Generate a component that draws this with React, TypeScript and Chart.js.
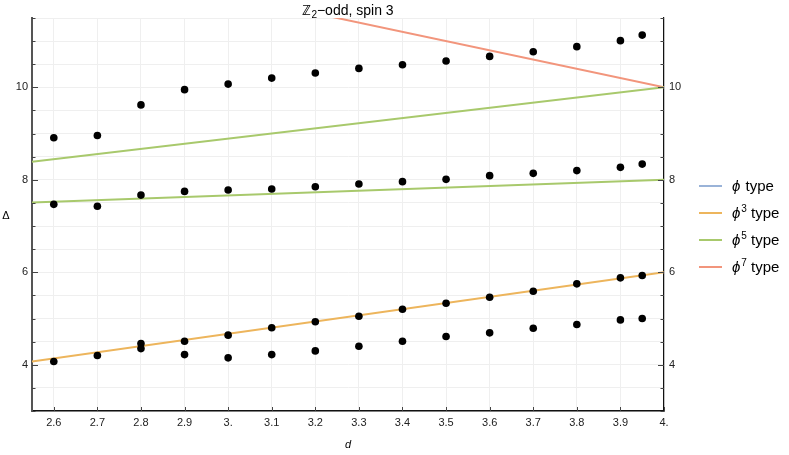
import { useEffect, useRef } from "react";
import { Chart, registerables } from "chart.js";

Chart.register(...registerables);

// ---- data ----
const dPoints = [2.6, 2.7, 2.8, 2.9, 3.0, 3.1, 3.2, 3.3, 3.4, 3.5, 3.6, 3.7, 3.8, 3.9, 3.95];
const upperLevel = [8.91, 8.96, 9.62, 9.95, 10.07, 10.2, 10.31, 10.41, 10.49, 10.57, 10.67, 10.77, 10.88, 11.01, 11.13];
const middleLevel = [7.47, 7.43, 7.67, 7.75, 7.78, 7.8, 7.85, 7.91, 7.96, 8.01, 8.09, 8.14, 8.2, 8.27, 8.34];
const lowerLevelA = [4.07, 4.2, 4.46, 4.51, 4.64, 4.8, 4.93, 5.05, 5.2, 5.33, 5.46, 5.59, 5.75, 5.88, 5.93];
const dLowerB = [2.8, 2.9, 3.0, 3.1, 3.2, 3.3, 3.4, 3.5, 3.6, 3.7, 3.8, 3.9, 3.95];
const lowerLevelB = [4.35, 4.22, 4.15, 4.22, 4.3, 4.4, 4.51, 4.61, 4.69, 4.79, 4.87, 4.97, 5.0];

const lineD = [2.55, 4.0];
const phi3Line = [4.07, 6.0];
const phi5LineLow = [7.51, 8.0];
const phi5LineHigh = [8.39, 10.0];
const phi7D = [3.0, 4.0];
const phi7Line = [12.0, 10.0];

const xTicks = [2.6, 2.7, 2.8, 2.9, 3.0, 3.1, 3.2, 3.3, 3.4, 3.5, 3.6, 3.7, 3.8, 3.9, 4.0];
const xTickLabels = ["2.6", "2.7", "2.8", "2.9", "3.", "3.1", "3.2", "3.3", "3.4", "3.5", "3.6", "3.7", "3.8", "3.9", "4."];
const yLabelled = [4, 6, 8, 10];

const legendPowers = ["", "3", "5", "7"];
const legendColors = ["#9ab3d8", "#edb55c", "#a8c96c", "#f2957c"];

const titleMain = "ℤ";
const titleSub = "2";
const titleRest = "−odd, spin 3";
const xTitle = "d";
const yTitle = "Δ";

const FONT = '"Liberation Sans", Arial, sans-serif';

const zip = (xs: number[], ys: number[]) => xs.map((x, i) => ({ x, y: ys[i] }));

const decorPlugin = {
  id: "decor",
  afterDraw(chart: any) {
    const ctx = chart.ctx as CanvasRenderingContext2D;
    const area = chart.chartArea;
    const xs = chart.scales.x;
    const ys = chart.scales.y;
    ctx.save();

    // inward frame ticks
    ctx.lineWidth = 1;
    ctx.strokeStyle = "#444";
    ctx.beginPath();
    xTicks.forEach((v) => {
      const px = Math.round(xs.getPixelForValue(v)) + 0.5;
      ctx.moveTo(px, area.bottom);
      ctx.lineTo(px, area.bottom - 4);
    });
    ys.ticks.forEach((t: any) => {
      const py = Math.round(ys.getPixelForValue(t.value)) + 0.5;
      const len = yLabelled.includes(t.value) ? 6 : 3.5;
      ctx.moveTo(area.left, py);
      ctx.lineTo(area.left + len, py);
      ctx.moveTo(area.right, py);
      ctx.lineTo(area.right - len, py);
    });
    ctx.stroke();

    ctx.fillStyle = "#000";
    ctx.textBaseline = "alphabetic";

    // title
    const cx = (area.left + area.right) / 2;
    ctx.font = `14px ${FONT}`;
    const w1 = ctx.measureText(titleMain).width;
    ctx.font = `10px ${FONT}`;
    const w2 = ctx.measureText(titleSub).width;
    ctx.font = `14px ${FONT}`;
    const w3 = ctx.measureText(titleRest).width;
    let tx = cx - (w1 + w2 + w3) / 2;
    const ty = 15;
    ctx.textAlign = "left";
    ctx.font = `14px ${FONT}`;
    ctx.fillText(titleMain, tx, ty);
    tx += w1;
    ctx.font = `10px ${FONT}`;
    ctx.fillText(titleSub, tx, ty + 3);
    tx += w2;
    ctx.font = `14px ${FONT}`;
    ctx.fillText(titleRest, tx, ty);

    // axis titles
    ctx.font = `11px ${FONT}`;
    ctx.textAlign = "center";
    ctx.fillText(yTitle, 6, 219);
    ctx.font = `italic 11px ${FONT}`;
    ctx.fillText(xTitle, cx, 448);

    // legend
    const rows = [186, 213, 240, 267];
    legendPowers.forEach((p, i) => {
      const y = rows[i];
      ctx.strokeStyle = legendColors[i];
      ctx.lineWidth = 2;
      ctx.beginPath();
      ctx.moveTo(699, y);
      ctx.lineTo(722, y);
      ctx.stroke();
      let x = 732;
      ctx.textAlign = "left";
      ctx.fillStyle = "#000";
      ctx.font = `italic 15px ${FONT}`;
      ctx.fillText("ϕ", x, y + 5);
      x += ctx.measureText("ϕ").width + 1;
      if (p) {
        ctx.font = `10px ${FONT}`;
        ctx.fillText(p, x, y - 1);
        x += ctx.measureText(p).width;
      }
      ctx.font = `15px ${FONT}`;
      ctx.fillText(" type", x, y + 5);
    });
    ctx.restore();
  },
};

export default function App() {
  const ref = useRef<HTMLCanvasElement | null>(null);
  useEffect(() => {
    if (!ref.current) return;
    const lineDs = (data: any[], color: string) => ({
      type: "line" as const,
      data,
      borderColor: color,
      backgroundColor: color,
      borderWidth: 2,
      pointRadius: 0,
      showLine: true,
      fill: false,
      order: 2,
    });
    const pointDs = (data: any[]) => ({
      type: "scatter" as const,
      data,
      backgroundColor: "#000",
      borderColor: "#000",
      pointRadius: 3.8,
      borderWidth: 0,
      showLine: false,
      order: 0,
    });
    const yTickCb = (v: any) => (yLabelled.includes(Number(v)) ? String(v) : "");
    const chart = new Chart(ref.current, {
      type: "scatter",
      data: {
        datasets: [
          lineDs(zip(lineD, phi3Line), legendColors[1]),
          lineDs(zip(lineD, phi5LineLow), legendColors[2]),
          lineDs(zip(lineD, phi5LineHigh), legendColors[2]),
          lineDs(zip(phi7D, phi7Line), legendColors[3]),
          pointDs(zip(dPoints, upperLevel)),
          pointDs(zip(dPoints, middleLevel)),
          pointDs(zip(dPoints, lowerLevelA)),
          pointDs(zip(dLowerB, lowerLevelB)),
        ] as any,
      },
      options: {
        animation: false,
        responsive: false,
        layout: { padding: { top: 18, left: 0, right: 0, bottom: 0 } },
        plugins: { legend: { display: false }, tooltip: { enabled: false }, title: { display: false } },
        scales: {
          x: {
            type: "linear",
            min: 2.55,
            max: 4.0,
            afterBuildTicks: (s: any) => {
              s.ticks = xTicks.map((value) => ({ value }));
            },
            afterFit: (s: any) => {
              s.height = 44;
            },
            ticks: {
              autoSkip: false,
              maxRotation: 0,
              padding: 5,
              color: "#222",
              font: { family: FONT, size: 11 },
              callback: (v: any, i: number) => xTickLabels[i],
            },
            grid: { color: "#efefef", lineWidth: 1, drawTicks: false },
            border: { color: "#111", width: 1.5 },
          },
          y: {
            type: "linear",
            position: "left",
            min: 3,
            max: 11.5,
            afterFit: (s: any) => {
              s.width = 32;
            },
            ticks: {
              stepSize: 0.5,
              autoSkip: false,
              padding: 4,
              color: "#222",
              font: { family: FONT, size: 11 },
              callback: yTickCb,
            },
            grid: { color: "#efefef", lineWidth: 1, drawTicks: false },
            border: { color: "#555", width: 2 },
          },
          y2: {
            type: "linear",
            position: "right",
            min: 3,
            max: 11.5,
            afterFit: (s: any) => {
              s.width = 125;
            },
            ticks: {
              stepSize: 0.5,
              autoSkip: false,
              padding: 5,
              color: "#222",
              font: { family: FONT, size: 11 },
              callback: yTickCb,
            },
            grid: { drawOnChartArea: false, drawTicks: false },
            border: { color: "#111", width: 1.2 },
          },
        },
      },
      plugins: [decorPlugin],
    });
    return () => chart.destroy();
  }, []);
  return (
    <div style={{ position: "absolute", left: 0, top: 0, width: 789, height: 455, background: "#fff" }}>
      <canvas ref={ref} width={789} height={455} style={{ display: "block" }} />
    </div>
  );
}
